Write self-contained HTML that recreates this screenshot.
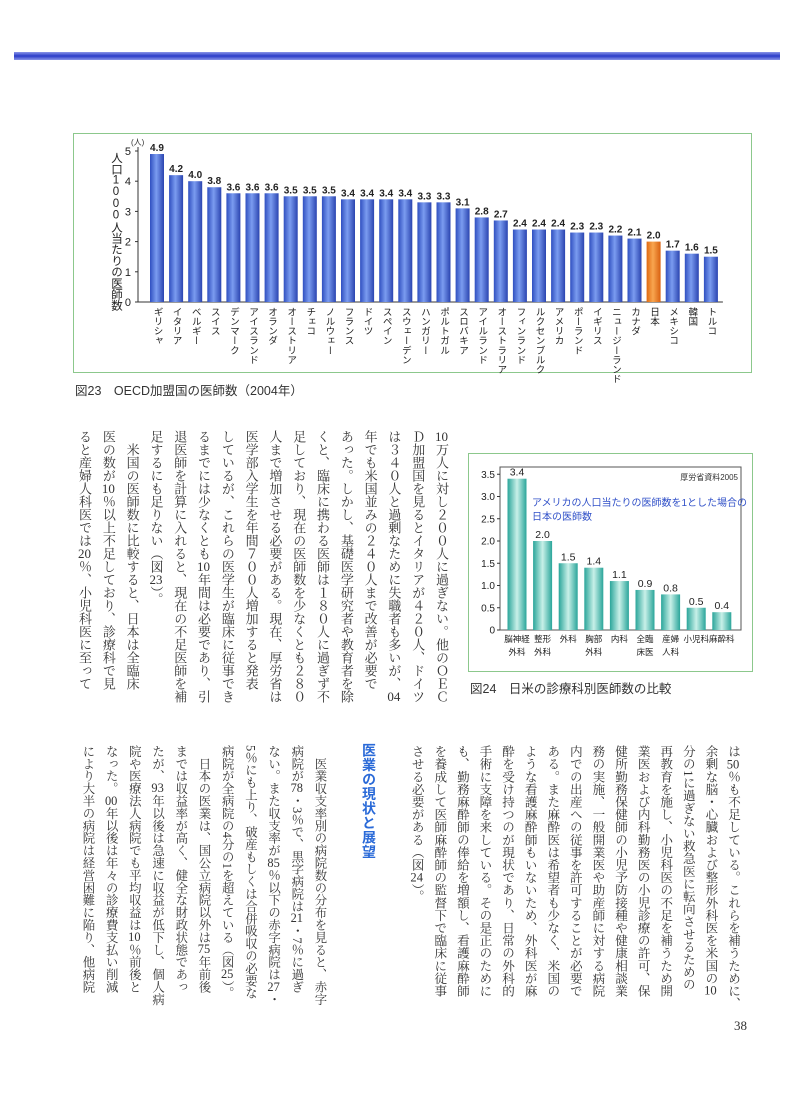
<!DOCTYPE html>
<html><head><meta charset="utf-8">
<style>
html,body{margin:0;padding:0;background:#fff;}
body{width:800px;height:1109px;position:relative;overflow:hidden;font-family:"Liberation Sans","Noto Sans CJK JP",sans-serif;}
.abs{position:absolute;}
.vt{position:absolute;writing-mode:vertical-rl;font-family:"Liberation Serif","Noto Serif CJK SC","Noto Sans CJK JP",serif;color:#333;white-space:nowrap;}
.tcy{text-combine-upright:all;}
.cap{position:absolute;font-size:12.5px;color:#333;}
</style></head><body>
<div class="abs" style="left:14px;top:52px;width:766px;height:8px;background:linear-gradient(#8a95e8,#2a3cc8 50%,#8a95e8);"></div>

<div class="abs" style="left:73px;top:133px;width:677px;height:238px;border:1.5px solid #8cc88c;"></div>
<svg class="abs" id="c1" style="left:0;top:0" width="800" height="400"></svg>
<div class="cap" style="left:75px;top:380px;">図23　OECD加盟国の医師数（2004年）</div>

<div class="abs" style="left:468px;top:453px;width:283px;height:217px;border:1.5px solid #8cc88c;"></div>
<svg class="abs" id="c2" style="left:0;top:0" width="800" height="700"></svg>
<div class="cap" style="left:470px;top:678px;">図24　日米の診療科別医師数の比較</div>

<div class="vt" style="right:347px;top:430px;line-height:23.8px;font-size:13px;letter-spacing:0;"><span class="tcy">10</span>万人に対し２００人に過ぎない。他のＯＥＣ<br>Ｄ加盟国を見るとイタリアが４２０人、ドイツ<br>は３４０人と過剰なために失職者も多いが、<span class="tcy">04</span><br>年でも米国並みの２４０人まで改善が必要で<br>あった。しかし、基礎医学研究者や教育者を除<br>くと、臨床に携わる医師は１８０人に過ぎず不<br>足しており、現在の医師数を少なくとも２８０<br>人まで増加させる必要がある。現在、厚労省は<br>医学部入学生を年間７００人増加すると発表<br>しているが、これらの医学生が臨床に従事でき<br>るまでには少なくとも<span class="tcy">10</span>年間は必要であり、引<br>退医師を計算に入れると、現在の不足医師を補<br>足するにも足りない（図<span class="tcy">23</span>）。<br>　米国の医師数に比較すると、日本は全臨床<br>医の数が<span class="tcy">10</span>％以上不足しており、診療科で見<br>ると産婦人科医では<span class="tcy">20</span>％、小児科医に至って</div>

<div class="vt" style="right:56px;top:745px;line-height:22.6px;font-size:12.6px;">は<span class="tcy">50</span>％も不足している。これらを補うために、<br>余剰な脳・心臓および整形外科医を米国の<span class="tcy">10</span><br>分の1に過ぎない救急医に転向させるための<br>再教育を施し、小児科医の不足を補うため開<br>業医および内科勤務医の小児診療の許可、保<br>健所勤務保健師の小児予防接種や健康相談業<br>務の実施、一般開業医や助産師に対する病院<br>内での出産への従事を許可することが必要で<br>ある。また麻酔医は希望者も少なく、米国の<br>ような看護麻酔師もいないため、外科医が麻<br>酔を受け持つのが現状であり、日常の外科的<br>手術に支障を来している。その是正のために<br>も、勤務麻酔師の俸給を増額し、看護麻酔師<br>を養成して医師麻酔師の監督下で臨床に従事<br>させる必要がある（図<span class="tcy">24</span>）。</div>

<div class="vt" style="right:421px;top:743px;font-family:'Liberation Sans','Noto Sans CJK JP',sans-serif;font-weight:bold;font-size:14px;letter-spacing:0.5px;color:#2a6ad8;line-height:20px;">医業の現状と展望</div>

<div class="vt" style="right:469px;top:745px;line-height:23.2px;font-size:12.4px;">　医業収支率別の病院数の分布を見ると、赤字<br>病院が<span class="tcy">78</span>・3％で、黒字病院は<span class="tcy">21</span>・7％に過ぎ<br>ない。また収支率が<span class="tcy">85</span>％以下の赤字病院は<span class="tcy">27</span>・<br>5％にも上り、破産もしくは合併吸収の必要な<br>病院が全病院の4分の1を超えている（図<span class="tcy">25</span>）。<br>　日本の医業は、国公立病院以外は<span class="tcy">75</span>年前後<br>までは収益率が高く、健全な財政状態であっ<br>たが、<span class="tcy">93</span>年以後は急速に収益が低下し、個人病<br>院や医療法人病院でも平均収益は<span class="tcy">10</span>％前後と<br>なった。<span class="tcy">00</span>年以後は年々の診療費支払い削減<br>により大半の病院は経営困難に陥り、他病院</div>

<div class="abs" style="left:734px;top:1018px;font-family:'Liberation Serif',serif;font-size:13px;color:#333;">38</div>

<script>
const countries=["ギリシャ","イタリア","ベルギー","スイス","デンマーク","アイスランド","オランダ","オーストリア","チェコ","ノルウェー","フランス","ドイツ","スペイン","スウェーデン","ハンガリー","ポルトガル","スロバキア","アイルランド","オーストラリア","フィンランド","ルクセンブルク","アメリカ","ポーランド","イギリス","ニュージーランド","カナダ","日本","メキシコ","韓国","トルコ"];
const doctors=[4.9,4.2,4.0,3.8,3.6,3.6,3.6,3.5,3.5,3.5,3.4,3.4,3.4,3.4,3.3,3.3,3.1,2.8,2.7,2.4,2.4,2.4,2.3,2.3,2.2,2.1,2.0,1.7,1.6,1.5];
const ticks1=[0,1,2,3,4,5];
const depts=[["脳神経","外科"],["整形","外科"],["外科"],["胸部","外科"],["内科"],["全臨","床医"],["産婦","人科"],["小児科"],["麻酔科"]];
const ratios=[3.4,2.0,1.5,1.4,1.1,0.9,0.8,0.5,0.4];
const ticks2=[0,0.5,1.0,1.5,2.0,2.5,3.0,3.5];

const NS="http://www.w3.org/2000/svg";
function mk(parent,tag,attrs,txt){const e=document.createElementNS(NS,tag);for(const k in attrs)e.setAttribute(k,attrs[k]);if(txt!==undefined)e.textContent=txt;parent.appendChild(e);return e;}

// Chart 1
(function(){
const s=document.getElementById('c1');
const defs=mk(s,'defs',{});
let g=mk(defs,'linearGradient',{id:'gb',x1:0,x2:1,y1:0,y2:0});
mk(g,'stop',{offset:'0','stop-color':'#2f4fc0'});mk(g,'stop',{offset:'0.45','stop-color':'#7b9cf0'});mk(g,'stop',{offset:'1','stop-color':'#2a44b0'});
g=mk(defs,'linearGradient',{id:'go',x1:0,x2:1,y1:0,y2:0});
mk(g,'stop',{offset:'0','stop-color':'#e06a10'});mk(g,'stop',{offset:'0.45','stop-color':'#f8a650'});mk(g,'stop',{offset:'1','stop-color':'#d86010'});
const y0=302,k=30.2,x0=157,dx=19.1,bw=14;
const Y=v=>y0-v*k, X=i=>x0+i*dx;
mk(s,'line',{x1:138,y1:Y(5)-4,x2:138,y2:y0,stroke:'#333','stroke-width':1});
mk(s,'line',{x1:138,y1:y0,x2:X(doctors.length-1)+12,y2:y0,stroke:'#333','stroke-width':1});
ticks1.forEach(t=>{
 const tl=mk(s,'line',{x1:135,y1:Y(t),x2:138,y2:Y(t),stroke:'#333'});
 
 
 const tx=mk(s,'text',{x:131,y:Y(t)+4,'font-size':11,'text-anchor':'end',fill:'#222'},String(t));
 
 
});
const u=mk(s,'text',{x:131,y:Y(5)-6,'font-size':8,fill:'#333'},'(人)');


const yt=mk(s,'text',{x:116,y:152,'font-size':11.5,fill:'#222',style:'writing-mode:vertical-rl;text-orientation:upright;letter-spacing:-0.3px'},'人口1000人当たりの医師数');


doctors.forEach((v,i)=>{
 const r=mk(s,'rect',{x:X(i)-bw/2,y:Y(v),width:bw,height:v*k,fill:countries[i]==='日本'?'url(#go)':'url(#gb)'});
 
 
 const lt=mk(s,'text',{x:X(i),y:Y(v)-3,'font-size':10,'text-anchor':'middle',fill:'#222','font-weight':'bold'},v.toFixed(1));
 
 
 const ct=mk(s,'text',{x:X(i),y:y0+5,'font-size':9.6,fill:'#222',style:'writing-mode:vertical-rl'},countries[i]);
 
 
});
})();

// Chart 2
(function(){
const s=document.getElementById('c2');
const defs=mk(s,'defs',{});
let g=mk(defs,'linearGradient',{id:'gt',x1:0,x2:1,y1:0,y2:0});
mk(g,'stop',{offset:'0','stop-color':'#2aa59a'});mk(g,'stop',{offset:'0.5','stop-color':'#c8f0e8'});mk(g,'stop',{offset:'1','stop-color':'#2aa59a'});
const y0=630,k=44.5,x0=517,dx=25.6,bw=19,xl=500,xr=741,top=467;
const Y=v=>y0-v*k, X=i=>x0+i*dx;
mk(s,'rect',{x:xl,y:top,width:xr-xl,height:y0-top,fill:'none',stroke:'#555','stroke-width':1});
ticks2.forEach(t=>{
 const tl=mk(s,'line',{x1:xl-3,y1:Y(t),x2:xl,y2:Y(t),stroke:'#333'});
 
 
 const tx=mk(s,'text',{x:xl-5,y:Y(t)+3.5,'font-size':10,'text-anchor':'end',fill:'#222'},t===0?'0':t.toFixed(1));
 
 
});
const src=mk(s,'text',{x:738,y:480,'font-size':8,'text-anchor':'end',fill:'#333'},'厚労省資料2005');


const n1=mk(s,'text',{x:532,y:506,'font-size':10,fill:'#3050c8'},'アメリカの人口当たりの医師数を1とした場合の');


const n2=mk(s,'text',{x:532,y:520,'font-size':10,fill:'#3050c8'},'日本の医師数');


ratios.forEach((v,i)=>{
 const r=mk(s,'rect',{x:X(i)-bw/2,y:Y(v),width:bw,height:v*k,fill:'url(#gt)'});
 
 
 const lt=mk(s,'text',{x:X(i),y:Y(v)-3,'font-size':10.5,'text-anchor':'middle',fill:'#222'},v.toFixed(1));
 
 
 depts[i].forEach((ln,j)=>{
  const ct=mk(s,'text',{x:X(i),y:y0+12+j*13,'font-size':8.5,'text-anchor':'middle',fill:'#222'},ln);
  
  
 });
});
})();
</script>
</body></html>
